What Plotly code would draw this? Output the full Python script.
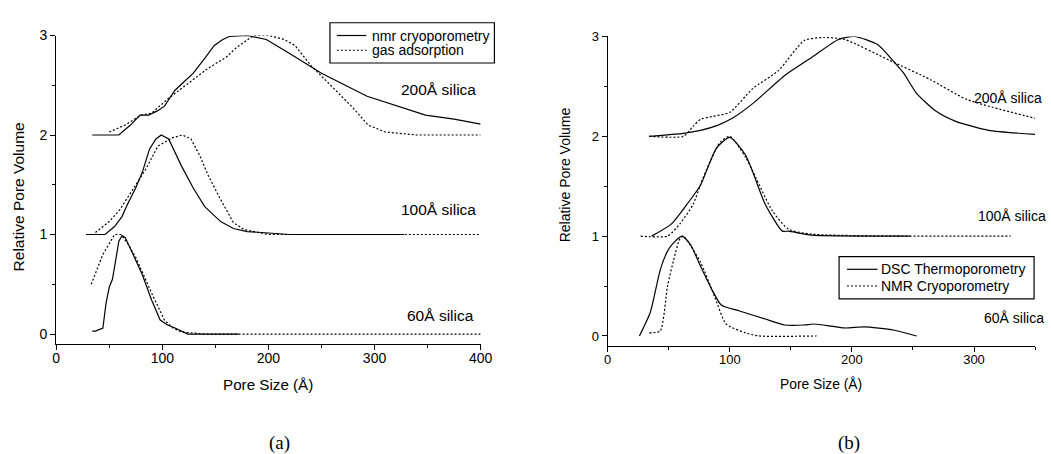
import plotly.graph_objects as go

# ---------------- data: panel (a) ----------------
a200_nmr_x = [34, 59, 70, 79, 87, 95, 102, 112, 120, 129, 140, 149, 157, 163, 180, 198, 220, 250, 293, 320, 348, 375, 400]
a200_nmr_y = [2.0, 2.0, 2.1, 2.2, 2.2, 2.24, 2.29, 2.45, 2.53, 2.62, 2.77, 2.9, 2.96, 2.99, 3.0, 2.96, 2.82, 2.62, 2.39, 2.3, 2.2, 2.16, 2.11]
a200_gas_x = [50, 65, 80, 90, 106, 125, 143, 160, 170, 186, 200, 215, 225, 240, 260, 280, 294, 310, 340, 400]
a200_gas_y = [2.03, 2.1, 2.2, 2.22, 2.37, 2.52, 2.67, 2.78, 2.88, 3.0, 3.0, 2.96, 2.9, 2.7, 2.48, 2.27, 2.1, 2.03, 2.0, 2.0]

a100_nmr_x = [28, 46, 55, 62, 67, 75, 81, 88, 94, 99, 106, 112, 118, 129, 140, 155, 167, 180, 192, 220, 328]
a100_nmr_y = [1.0, 1.0, 1.08, 1.18, 1.3, 1.47, 1.62, 1.86, 1.96, 2.0, 1.96, 1.83, 1.69, 1.47, 1.28, 1.13, 1.06, 1.03, 1.02, 1.0, 1.0]
a100_gas_x = [37, 50, 60, 71, 84, 96, 109, 119, 127, 135, 143, 155, 167, 177, 200, 400]
a100_gas_y = [1.02, 1.13, 1.25, 1.43, 1.65, 1.89, 1.97, 2.0, 1.96, 1.8, 1.6, 1.35, 1.12, 1.05, 1.0, 1.0]

a60_nmr_x = [34, 37, 44, 47, 50, 53, 57, 59, 62, 65, 69, 75, 81, 90, 98, 105, 112, 124, 172]
a60_nmr_y = [0.03, 0.03, 0.06, 0.31, 0.47, 0.55, 0.8, 0.93, 0.99, 0.97, 0.88, 0.74, 0.6, 0.34, 0.14, 0.09, 0.06, 0.0, 0.0]
a60_gas_x = [33, 44, 55, 61, 68, 75, 90, 102, 110, 118, 140, 400]
a60_gas_y = [0.5, 0.8, 1.0, 1.0, 0.9, 0.77, 0.41, 0.14, 0.06, 0.02, 0.0, 0.0]

# ---------------- data: panel (b) ----------------
b200_dsc_x = [34, 62, 76, 90, 102, 119, 145, 167, 189, 202, 221, 237, 242, 253, 269, 285, 312, 350]
b200_dsc_y = [2.0, 2.03, 2.06, 2.11, 2.18, 2.33, 2.61, 2.79, 2.97, 3.0, 2.92, 2.71, 2.64, 2.43, 2.25, 2.15, 2.06, 2.02]
b200_nmr_x = [34, 62, 70, 76, 86, 100, 119, 140, 161, 177, 194, 231, 264, 294, 350]
b200_nmr_y = [2.0, 2.0, 2.1, 2.17, 2.2, 2.24, 2.48, 2.66, 2.96, 2.99, 2.97, 2.76, 2.57, 2.37, 2.18]

b100_dsc_x = [36, 52, 65, 76, 89, 100, 113, 129, 143, 148, 167, 248]
b100_dsc_y = [1.0, 1.12, 1.32, 1.51, 1.88, 1.99, 1.81, 1.32, 1.05, 1.05, 1.01, 1.0]
b100_nmr_x = [27, 49, 59, 70, 78, 92, 100, 113, 135, 148, 167, 330]
b100_nmr_y = [1.0, 1.0, 1.12, 1.32, 1.58, 1.94, 2.0, 1.79, 1.25, 1.07, 1.02, 1.0]

b60_dsc_x = [26, 35, 43, 49, 53, 61, 68, 76, 86, 93, 108, 129, 145, 161, 169, 194, 210, 234, 253]
b60_dsc_y = [0.0, 0.24, 0.66, 0.85, 0.92, 1.0, 0.91, 0.7, 0.45, 0.31, 0.25, 0.17, 0.11, 0.11, 0.12, 0.08, 0.09, 0.06, 0.0]
b60_nmr_x = [34, 43, 49, 54, 59, 62, 76, 88, 97, 113, 124, 171]
b60_nmr_y = [0.03, 0.05, 0.5, 0.76, 0.97, 1.0, 0.74, 0.38, 0.12, 0.03, 0.0, 0.0]

# labels
legend_a = ["nmr cryoporometry", "gas adsorption"]
legend_b = ["DSC Thermoporometry", "NMR Cryoporometry"]
sample_labels = ["200Å silica", "100Å silica", "60Å silica"]
x_ticks_a = [0, 100, 200, 300, 400]
x_ticks_b = [0, 100, 200, 300]
y_ticks = [0, 1, 2, 3]

FONT = "Liberation Sans, Arial, sans-serif"
SOLID = dict(color="black", width=1.2)
DOT = dict(color="black", width=1.2, dash="2px,2px")

fig = go.Figure()

def add(x, y, line, name, xa, ya, shape="linear"):
    ln = dict(line)
    if shape == "spline":
        ln.update(shape="spline", smoothing=0.6)
    fig.add_trace(go.Scatter(x=x, y=y, mode="lines", line=ln, name=name,
                             showlegend=False, xaxis=xa, yaxis=ya))

add(a200_nmr_x, a200_nmr_y, SOLID, legend_a[0], "x", "y")
add(a200_gas_x, a200_gas_y, DOT, legend_a[1], "x", "y")
add(a100_nmr_x, a100_nmr_y, SOLID, legend_a[0], "x", "y")
add(a100_gas_x, a100_gas_y, DOT, legend_a[1], "x", "y")
add(a60_nmr_x, a60_nmr_y, SOLID, legend_a[0], "x", "y")
add(a60_gas_x, a60_gas_y, DOT, legend_a[1], "x", "y")

add(b200_dsc_x, b200_dsc_y, SOLID, legend_b[0], "x2", "y2", "spline")
add(b200_nmr_x, b200_nmr_y, DOT, legend_b[1], "x2", "y2", "spline")
add(b100_dsc_x, b100_dsc_y, SOLID, legend_b[0], "x2", "y2", "spline")
add(b100_nmr_x, b100_nmr_y, DOT, legend_b[1], "x2", "y2", "spline")
add(b60_dsc_x, b60_dsc_y, SOLID, legend_b[0], "x2", "y2", "spline")
add(b60_nmr_x, b60_nmr_y, DOT, legend_b[1], "x2", "y2", "spline")

W, H = 1051, 454

def axis_style(size):
    return dict(showline=True, linecolor="black", linewidth=1.3, showgrid=False, zeroline=False,
                ticks="outside", ticklen=5, tickwidth=1.2, tickcolor="black",
                tickfont=dict(family=FONT, size=size, color="black"))

fig.update_layout(
    width=W, height=H, margin=dict(l=0, r=0, t=0, b=0),
    paper_bgcolor="white", plot_bgcolor="white", showlegend=False,
    font=dict(family=FONT, size=14, color="black"),
    xaxis=dict(domain=[53 / W, 484 / W], range=[0, 400], tickvals=x_ticks_a, anchor="y", ticklabelstandoff=-4,
               minor=dict(dtick=50, ticks="outside", ticklen=3, tickcolor="black"), **axis_style(14)),
    yaxis=dict(domain=[1 - 342 / H, 1 - 28 / H], range=[-0.1, 3.0], tickvals=y_ticks, anchor="x",
               minor=dict(dtick=0.5, ticks="outside", ticklen=3, tickcolor="black"), **axis_style(14)),
    xaxis2=dict(domain=[613 / W, 1047 / W], range=[0, 350], tickvals=x_ticks_b, anchor="y2", ticklabelstandoff=-4,
                minor=dict(dtick=50, ticks="outside", ticklen=3, tickcolor="black"), **axis_style(13)),
    yaxis2=dict(domain=[1 - 344 / H, 1 - 29 / H], range=[-0.1, 3.0], tickvals=y_ticks, anchor="x2",
                minor=dict(dtick=0.5, ticks="outside", ticklen=3, tickcolor="black"), **axis_style(13)),
)

ann = []
shapes = []
# sample labels
for (xr, yr, xv, yv, t, fs) in [
    ("x", "y", 360, 2.46, sample_labels[0], 15.5), ("x", "y", 360, 1.25, sample_labels[1], 15.5),
    ("x", "y", 362, 0.19, sample_labels[2], 15.5),
    ("x2", "y2", 328, 2.38, sample_labels[0], 14), ("x2", "y2", 331, 1.2, sample_labels[1], 14),
    ("x2", "y2", 333, 0.18, sample_labels[2], 14),
]:
    ann.append(dict(xref=xr, yref=yr, x=xv, y=yv, text=t, showarrow=False,
                    font=dict(family=FONT, size=fs, color="black"), xanchor="center", yanchor="middle"))
# axis titles
for xc, fs in [(268, 15.2), (830, 13.8)]:
    ann.append(dict(xref="paper", yref="paper", x=xc / W, y=1 - 383 / H, text="Pore Size (Å)", showarrow=False,
                    font=dict(family=FONT, size=fs, color="black"), xanchor="center", yanchor="middle"))
for xc, yc, fs in [(15, 192, 15.5), (570, 170, 14)]:
    ann.append(dict(xref="paper", yref="paper", x=xc / W, y=1 - yc / H, text="Relative Pore Volume", showarrow=False,
                    textangle=-90, font=dict(family=FONT, size=fs, color="black"), xanchor="center", yanchor="middle"))
# panel labels
for xc, t in [(280, "(a)"), (858, "(b)")]:
    ann.append(dict(xref="paper", yref="paper", x=xc / W, y=1 - 443 / H, text=t, showarrow=False,
                    font=dict(family="Liberation Serif, Times New Roman, serif", size=19, color="black"),
                    xanchor="center", yanchor="middle"))

# legend boxes (drawn as shapes + text, pixel positions converted to paper units)
def legend_box(x0, y0, x1, y1, rows, names):
    shapes.append(dict(type="rect", xref="paper", yref="paper", x0=x0 / W, x1=x1 / W,
                       y0=1 - y1 / H, y1=1 - y0 / H, line=dict(color="black", width=1.2),
                       fillcolor="white", layer="above"))
    for (sx0, sx1, ty, tx), name, style in zip(rows, names, [SOLID, DOT]):
        shapes.append(dict(type="line", xref="paper", yref="paper", x0=sx0 / W, x1=sx1 / W,
                           y0=1 - ty / H, y1=1 - ty / H, line=style, layer="above"))
        ann.append(dict(xref="paper", yref="paper", x=tx / W, y=1 - ty / H, text=name, showarrow=False,
                        font=dict(family=FONT, size=14, color="black"), xanchor="left", yanchor="middle"))

legend_box(331, 15, 498, 56, [(338, 368, 28, 372), (338, 368, 43, 372)], legend_a)
legend_box(848, 253, 1046, 296, [(856, 887, 266, 889), (856, 887, 283, 889)], legend_b)

fig.update_layout(annotations=ann, shapes=shapes)

fig.write_html("out.html")
